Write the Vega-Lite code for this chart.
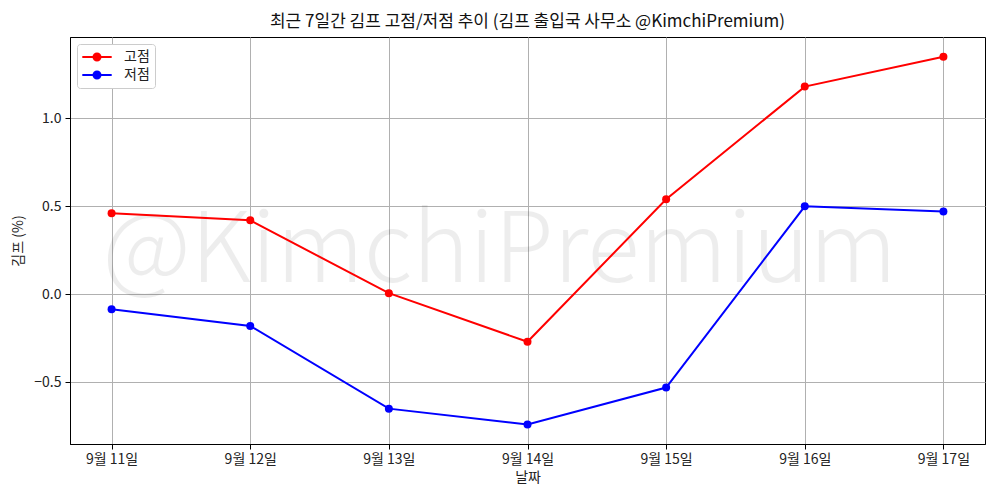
{
  "$schema": "https://vega.github.io/schema/vega-lite/v6.json",
  "width": 915,
  "height": 407,
  "autosize": "none",
  "padding": {"left": 70, "top": 37, "right": 15, "bottom": 56},
  "background": "white",
  "config": {
    "font": "Noto Sans CJK KR",
    "view": {"stroke": "black", "strokeWidth": 1},
    "axis": {
      "domainColor": "black",
      "tickColor": "black",
      "tickSize": 5,
      "gridColor": "#b0b0b0",
      "gridWidth": 1,
      "labelFontSize": 14,
      "labelColor": "#222222",
      "titleFontSize": 14,
      "titleFontWeight": "normal",
      "titleColor": "#222222",
      "labelFont": "Noto Sans CJK KR",
      "titleFont": "Noto Sans CJK KR"
    }
  },
  "title": {
    "text": "최근 7일간 김프 고점/저점 추이 (김프 출입국 사무소 @KimchiPremium)",
    "fontSize": 17,
    "fontWeight": "normal",
    "color": "#111111",
    "offset": 6,
    "anchor": "middle"
  },
  "data": {
    "values": [
      {"day": 11, "series": "고점", "value": 0.46},
      {"day": 12, "series": "고점", "value": 0.42},
      {"day": 13, "series": "고점", "value": 0.006},
      {"day": 14, "series": "고점", "value": -0.27},
      {"day": 15, "series": "고점", "value": 0.54},
      {"day": 16, "series": "고점", "value": 1.18},
      {"day": 17, "series": "고점", "value": 1.35},
      {"day": 11, "series": "저점", "value": -0.085},
      {"day": 12, "series": "저점", "value": -0.18},
      {"day": 13, "series": "저점", "value": -0.65},
      {"day": 14, "series": "저점", "value": -0.74},
      {"day": 15, "series": "저점", "value": -0.53},
      {"day": 16, "series": "저점", "value": 0.50},
      {"day": 17, "series": "저점", "value": 0.47}
    ]
  },
  "layer": [
    {
      "data": {"values": [{"wm": "@KimchiPremium"}]},
      "mark": {"type": "text", "fontSize": 97, "font": "Noto Sans CJK KR", "fontWeight": 300, "color": "#000000", "opacity": 0.065, "align": "center", "baseline": "alphabetic"},
      "encoding": {
        "x": {"datum": 13.8, "type": "quantitative"},
        "y": {"datum": 0.07, "type": "quantitative"},
        "text": {"field": "wm", "type": "nominal"}
      }
    },
    {
      "mark": {"type": "line", "strokeWidth": 2, "point": {"filled": true, "size": 64}},
      "encoding": {
        "x": {
          "field": "day",
          "type": "quantitative",
          "scale": {"domain": [10.7, 17.3], "nice": false, "zero": false},
          "axis": {
            "title": "날짜",
            "values": [11, 12, 13, 14, 15, 16, 17],
            "labelExpr": "'9월 ' + datum.value + '일'",
            "labelPadding": 3,
            "titlePadding": 4,
            "grid": true
          }
        },
        "y": {
          "field": "value",
          "type": "quantitative",
          "scale": {"domain": [-0.851, 1.462], "nice": false, "zero": false},
          "axis": {
            "title": "김프 (%)",
            "values": [-0.5, 0, 0.5, 1.0],
            "format": ".1f",
            "labelPadding": 4,
            "titlePadding": 8,
            "grid": true
          }
        },
        "color": {
          "field": "series",
          "type": "nominal",
          "scale": {"domain": ["고점", "저점"], "range": ["#ff0000", "#0000ff"]},
          "legend": {
            "title": null,
            "orient": "top-left",
            "offset": 7,
            "padding": 5,
            "fillColor": "white",
            "strokeColor": "#cccccc",
            "cornerRadius": 3,
            "symbolType": "M-2.1,0L2.1,0M0.5,0A0.5,0.5,0,1,1,-0.5,0A0.5,0.5,0,1,1,0.5,0Z",
            "symbolSize": 196,
            "symbolStrokeWidth": 2,
            "symbolOffset": 7,
            "labelOffset": 19,
            "labelFontSize": 14,
            "labelColor": "#222222",
            "rowPadding": 2,
            "encode": {
              "symbols": {"update": {"fill": {"scale": "color", "field": "value"}, "stroke": {"scale": "color", "field": "value"}}}
            }
          }
        }
      }
    }
  ]
}
